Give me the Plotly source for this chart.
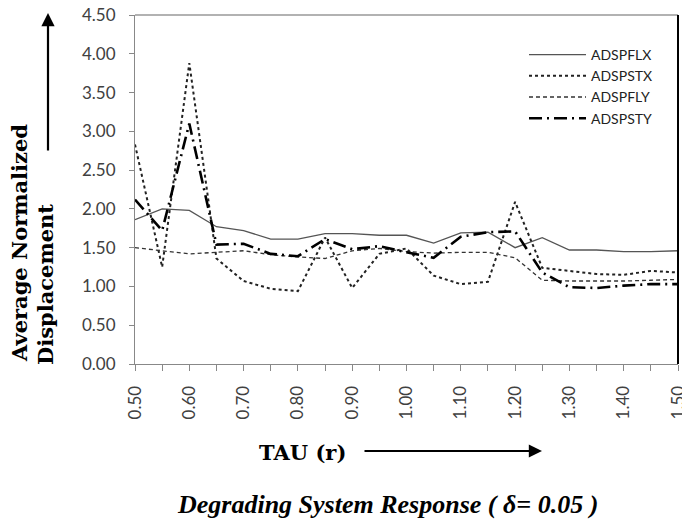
import plotly.graph_objects as go

tau = [0.50, 0.55, 0.60, 0.65, 0.70, 0.75, 0.80, 0.85, 0.90, 0.95, 1.00,
       1.05, 1.10, 1.15, 1.20, 1.25, 1.30, 1.35, 1.40, 1.45, 1.50]
tick_labels = ["0.50", "", "0.60", "", "0.70", "", "0.80", "", "0.90", "", "1.00",
               "", "1.10", "", "1.20", "", "1.30", "", "1.40", "", "1.50"]

adspflx = [1.86, 2.00, 1.98, 1.77, 1.72, 1.61, 1.61, 1.68, 1.68, 1.66, 1.66,
           1.56, 1.69, 1.70, 1.50, 1.63, 1.47, 1.47, 1.45, 1.45, 1.46]
adspstx = [2.83, 1.25, 3.88, 1.36, 1.07, 0.97, 0.94, 1.63, 0.98, 1.42, 1.49,
           1.14, 1.03, 1.06, 2.09, 1.24, 1.20, 1.16, 1.15, 1.20, 1.18]
adspfly = [1.50, 1.46, 1.42, 1.44, 1.46, 1.41, 1.38, 1.36, 1.46, 1.49, 1.45,
           1.43, 1.44, 1.44, 1.37, 1.08, 1.07, 1.07, 1.07, 1.08, 1.09]
adspsty = [2.12, 1.72, 3.10, 1.54, 1.55, 1.42, 1.39, 1.61, 1.48, 1.52, 1.44,
           1.37, 1.64, 1.70, 1.71, 1.18, 0.99, 0.98, 1.01, 1.03, 1.03]

series_names = ["ADSPFLX", "ADSPSTX", "ADSPFLY", "ADSPSTY"]
y_ticks = [0.0, 0.5, 1.0, 1.5, 2.0, 2.5, 3.0, 3.5, 4.0, 4.5]

W, H = 682, 522
L, R, T, B = 135, 4, 15, 158
PW = W - L - R
PH = H - T - B


def px(xp):
    return (xp - L) / PW


def py(yp):
    return (H - B - yp) / PH


fig = go.Figure()
styles = [
    dict(color="#555555", width=1.3, dash="solid"),
    dict(color="#222222", width=2.0, dash="dot"),
    dict(color="#333333", width=1.3, dash="4px,3px"),
    dict(color="#000000", width=2.6, dash="13px,5px,2px,5px"),
]
for name, ys, st in zip(series_names, [adspflx, adspstx, adspfly, adspsty], styles):
    fig.add_trace(go.Scatter(x=tau, y=ys, mode="lines", name=name, line=st))

fig.update_layout(
    width=W, height=H,
    margin=dict(l=L, r=R, t=T, b=B, pad=0, autoexpand=False),
    paper_bgcolor="white", plot_bgcolor="white",
    font=dict(family="Lato, sans-serif", color="#404040"),
    showlegend=True,
    legend=dict(x=px(524), y=py(39), xanchor="left", yanchor="top",
                bgcolor="rgba(0,0,0,0)", font=dict(size=14, color="#222"),
                itemwidth=57, tracegroupgap=0),
    xaxis=dict(range=[0.5, 1.5], tickmode="array", tickvals=tau, ticktext=tick_labels,
               tickangle=-90, ticks="outside", ticklen=6, tickcolor="#888888",
               showline=True, linecolor="#888888", linewidth=1, mirror=False,
               showgrid=False, zeroline=False, ticklabelstandoff=8,
               ticklabeloverflow="allow", automargin=False,
               tickfont=dict(size=17, color="#404040")),
    yaxis=dict(range=[0, 4.5], tickmode="array", tickvals=y_ticks,
               ticktext=[f"{v:.2f}" for v in y_ticks],
               ticks="outside", ticklen=5, tickcolor="#888888",
               showline=True, linecolor="#888888", linewidth=1,
               showgrid=False, zeroline=False, ticklabelstandoff=10,
               automargin=False,
               tickfont=dict(size=17, color="#404040")),
)

# plot border: top gray, right black
fig.add_shape(type="line", xref="paper", yref="paper", x0=0, x1=1, y0=1, y1=1,
              line=dict(color="#666666", width=1.2))
fig.add_shape(type="line", xref="paper", yref="paper", x0=1, x1=1, y0=0, y1=1,
              line=dict(color="#000000", width=2))

serif_bold = "DejaVu Serif"
# y-axis title (two lines) and arrow
fig.add_annotation(text="<b>Average Normalized</b>", xref="paper", yref="paper",
                   x=px(19), y=py(243), xanchor="center", yanchor="middle",
                   textangle=-90, showarrow=False,
                   font=dict(family=serif_bold, size=21, color="#000"))
fig.add_annotation(text="<b>Displacement</b>", xref="paper", yref="paper",
                   x=px(45), y=py(285), xanchor="center", yanchor="middle",
                   textangle=-90, showarrow=False,
                   font=dict(family=serif_bold, size=21, color="#000"))
fig.add_annotation(text="", xref="paper", yref="paper", x=px(48), y=py(13),
                   ax=0, ay=139, axref="pixel", ayref="pixel",
                   showarrow=True, arrowhead=2, arrowsize=1.2, arrowwidth=2.2,
                   arrowcolor="#000")

# x-axis title and arrow
fig.add_annotation(text="<b>TAU (r)</b>", xref="paper", yref="paper",
                   x=px(302), y=py(452), xanchor="center", yanchor="middle",
                   showarrow=False, font=dict(family=serif_bold, size=21, color="#000"))
fig.add_annotation(text="", xref="paper", yref="paper", x=px(542), y=py(451),
                   ax=-179, ay=0, axref="pixel", ayref="pixel",
                   showarrow=True, arrowhead=2, arrowsize=1.2, arrowwidth=2.2,
                   arrowcolor="#000")

# chart caption
fig.add_annotation(text="<b><i>Degrading System Response ( δ= 0.05 )</i></b>",
                   xref="paper", yref="paper", x=px(387), y=py(504),
                   xanchor="center", yanchor="middle", showarrow=False,
                   font=dict(family="Liberation Serif", size=26, color="#000"))

fig.write_html("out.html", config={"displayModeBar": False},
               post_script="document.body.style.margin='0';document.body.style.overflow='hidden';")
